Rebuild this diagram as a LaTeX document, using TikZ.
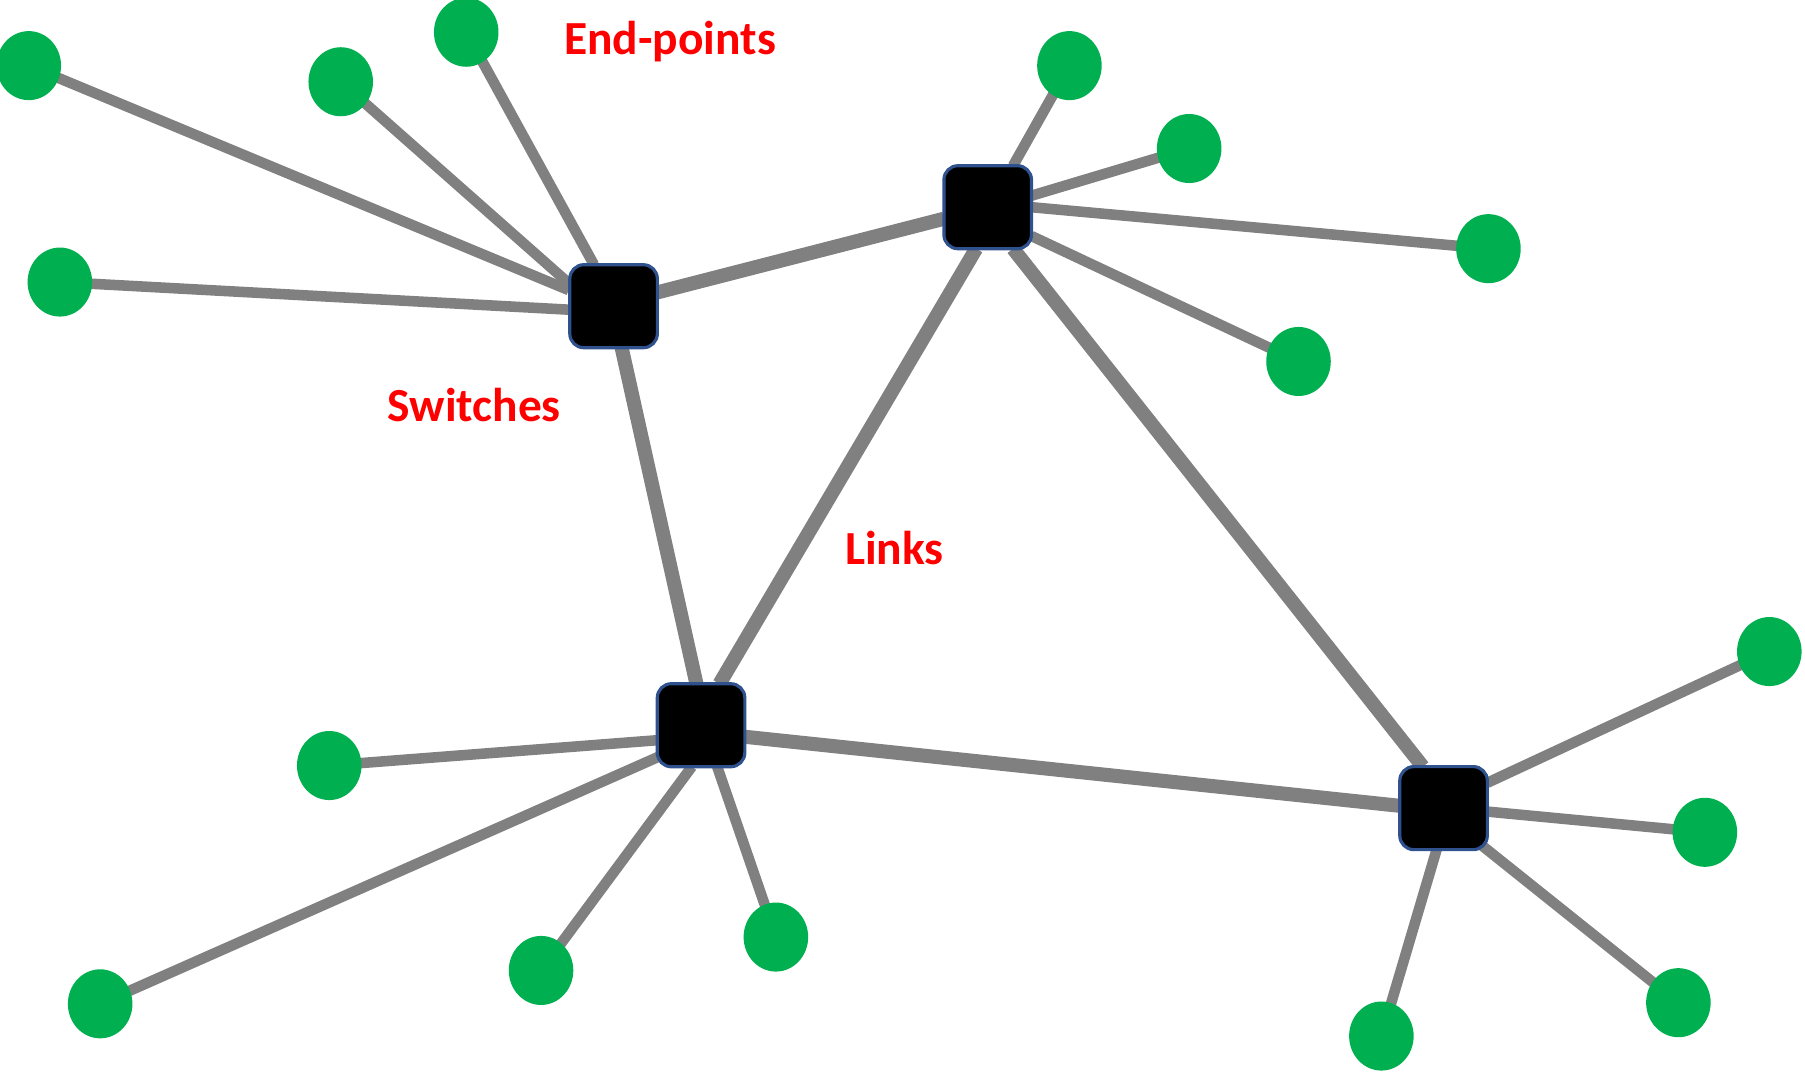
\documentclass[tikz,border=0pt]{standalone}
\usepackage{fontspec}
\setmainfont{Carlito}
\usetikzlibrary{shapes.geometric,backgrounds,calc}
\definecolor{linkgray}{HTML}{808080}
\definecolor{epgreen}{HTML}{00B050}
\definecolor{swborder}{HTML}{2F528F}
\tikzset{
	switch/.style={draw=swborder, line width=0.9pt, fill=black, rounded corners=4pt,
			minimum width=0.875cm, minimum height=0.83cm, inner sep=0pt},
	endpoint/.style={ellipse, fill=epgreen, minimum width=0.645cm, minimum height=0.69cm, inner sep=0pt},
	link/.style={draw=linkgray, line width=3pt},
	trunk/.style={draw=linkgray, line width=4pt},
	tag/.style={text=red, font=\bfseries\fontsize{13.5}{16}\selectfont}
}

\begin{document}
\begin{tikzpicture}[x=0.011511cm, y=-0.011511cm]
			\useasboundingbox (0,0) rectangle (1568,932);
			% switches
			\node[switch] (s1) at (533,266) {};
			\node[switch] (s2) at (858,180) {};
			\node[switch] (s3) at (609,630) {};
			\node[switch] (s4) at (1254,702) {};
			% end-points
			\node[endpoint] (e1) at (25,57) {};
			\node[endpoint] (e2) at (296,71) {};
			\node[endpoint] (e3) at (405,28) {};
			\node[endpoint] (e4) at (52,245) {};
			\node[endpoint] (e5) at (929,57) {};
			\node[endpoint] (e6) at (1033,129) {};
			\node[endpoint] (e7) at (1293,216) {};
			\node[endpoint] (e8) at (1128,314) {};
			\node[endpoint] (e9) at (286,665) {};
			\node[endpoint] (e10) at (87,872) {};
			\node[endpoint] (e11) at (470,843) {};
			\node[endpoint] (e12) at (674,814) {};
			\node[endpoint] (e13) at (1537,566) {};
			\node[endpoint] (e14) at (1481,723) {};
			\node[endpoint] (e15) at (1458,871) {};
			\node[endpoint] (e16) at (1200,900) {};
			% links (offsets = where a link meets the switch)
			\begin{scope}[on background layer]
				\foreach \a/\p/\b/\q in {s1/{38,-12}/s2/{-38,10}, s1/{7,36}/s3/{-4,-36},
						s2/{-10,36}/s3/{16,-36}, s2/{22,36}/s4/{-18,-36}, s3/{38,10}/s4/{-38,-2}}
					\draw[trunk] ($(\a)+(\p)$) -- ($(\b)+(\q)$);
				\foreach \a/\p/\b in {s1/{-39,-14}/e1, s1/{-39,-20}/e2, s1/{-17,-36}/e3, s1/{-39,3}/e4,
						s2/{22,-36}/e5, s2/{38,-10}/e6, s2/{38,0}/e7, s2/{38,25}/e8,
						s3/{-38,13}/e9, s3/{-36,27}/e10, s3/{-8,36}/e11, s3/{14,36}/e12,
						s4/{38,-22}/e13, s4/{38,3}/e14, s4/{34,33}/e15, s4/{-6,36}/e16}
					\draw[link] ($(\a)+(\p)$) -- (\b.center);
			\end{scope}
			% labels
			\node[tag] (endlabel) at (582,36) {End-points};
			\node[tag] (swlabel) at (412,352) {Switches};
			\node[tag] (linklabel) at (777,476) {Links};
		\end{tikzpicture}
\end{document}
